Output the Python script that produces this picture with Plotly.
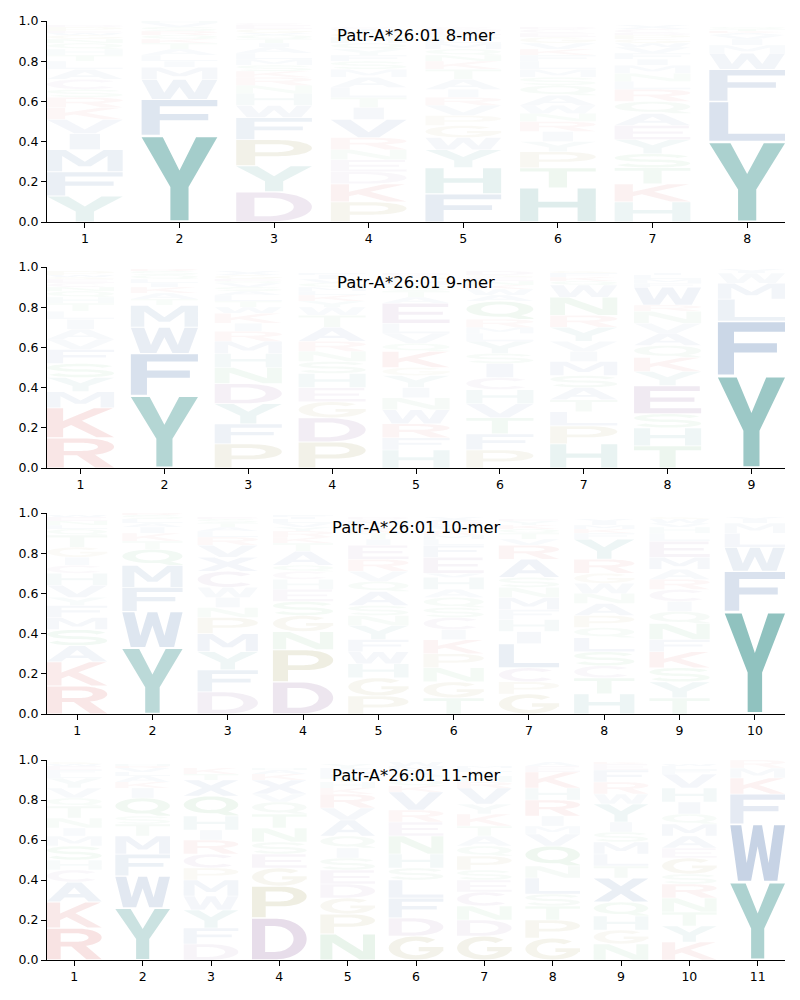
import math
import plotly.graph_objects as go

# ---------------- data (letter, probability) stacked bottom -> top ----------------
PEPTIDE_LENGTHS = [8, 9, 10, 11]
TITLE_FMT = "Patr-A*26:01 {}-mer"
Y_TICKS = [0.0, 0.2, 0.4, 0.6, 0.8, 1.0]

logo_8mer = [
    [("Y", .13), ("F", .12), ("M", .11), ("I", .08), ("V", .07), ("K", .06), ("R", .05), ("S", .04), ("C", .05),
     ("A", .05), ("L", .04), ("T", .03), ("H", .03), ("Q", .03), ("N", .02), ("G", .02), ("W", .01), ("E", .01),
     ("P", .02), ("D", .01)],
    [("Y", .43), ("F", .18), ("W", .10), ("M", .06), ("I", .03), ("L", .03), ("A", .03), ("T", .03), ("K", .02),
     ("Q", .02), ("R", .02), ("S", .02), ("V", .02), ("H", .01)],
    [("D", .15), ("Y", .13), ("P", .13), ("F", .11), ("W", .06), ("H", .06), ("N", .04), ("R", .04), ("K", .03),
     ("S", .03), ("M", .03), ("L", .03), ("A", .03), ("I", .02), ("T", .02), ("Q", .02), ("V", .01), ("G", .02),
     ("E", .02), ("C", .01)],
    [("P", .10), ("K", .09), ("D", .06), ("E", .06), ("N", .05), ("R", .06), ("V", .09), ("I", .06), ("T", .05),
     ("L", .05), ("A", .05), ("M", .04), ("S", .04), ("F", .03), ("Y", .03), ("Q", .03), ("H", .03), ("G", .02),
     ("W", .02), ("C", .01)],
    [("F", .14), ("H", .13), ("Y", .09), ("W", .06), ("G", .06), ("P", .05), ("V", .05), ("R", .04), ("I", .04),
     ("A", .05), ("T", .05), ("K", .04), ("N", .03), ("Q", .03), ("M", .03), ("L", .02), ("S", .02), ("E", .02),
     ("D", .01), ("C", .01)],
    [("H", .17), ("T", .10), ("P", .08), ("Y", .05), ("I", .05), ("R", .05), ("N", .04), ("W", .04), ("A", .05),
     ("Q", .05), ("S", .04), ("M", .04), ("L", .04), ("F", .03), ("K", .03), ("V", .03), ("G", .03), ("E", .02),
     ("C", .02), ("D", .01)],
    [("H", .10), ("K", .09), ("T", .08), ("S", .07), ("Y", .07), ("E", .07), ("A", .06), ("Q", .06), ("R", .06),
     ("L", .04), ("N", .04), ("M", .04), ("I", .03), ("F", .03), ("V", .03), ("W", .02), ("G", .02), ("P", .02),
     ("D", .01), ("C", .02), ("X", .02)],
    [("Y", .40), ("L", .20), ("F", .16), ("W", .08), ("M", .04), ("I", .03), ("V", .02), ("A", .01), ("K", .01),
     ("T", .01), ("Q", .01)],
]

logo_9mer = [
    [("R", .15), ("K", .15), ("M", .08), ("Y", .07), ("S", .07), ("F", .07), ("V", .05), ("A", .05), ("I", .05),
     ("L", .04), ("T", .04), ("H", .03), ("Q", .03), ("N", .02), ("C", .02), ("E", .02), ("G", .01), ("W", .01),
     ("P", .02)],
    [("Y", .36), ("F", .21), ("W", .13), ("M", .11), ("T", .03), ("A", .03), ("K", .03), ("I", .02), ("L", .02),
     ("Q", .02), ("S", .02), ("R", .01)],
    [("P", .12), ("F", .10), ("Y", .10), ("D", .10), ("N", .08), ("H", .07), ("M", .06), ("R", .05), ("I", .04),
     ("K", .05), ("W", .03), ("T", .03), ("L", .03), ("A", .02), ("S", .02), ("V", .02), ("Q", .01), ("E", .01),
     ("G", .02), ("X", .02)],
    [("P", .13), ("D", .12), ("G", .08), ("E", .07), ("H", .07), ("S", .06), ("N", .05), ("R", .05), ("A", .07),
     ("T", .06), ("W", .04), ("Y", .03), ("K", .03), ("L", .02), ("M", .02), ("Q", .02), ("V", .02), ("I", .02),
     ("F", .01)],
    [("H", .09), ("F", .06), ("R", .07), ("W", .07), ("N", .06), ("I", .05), ("Y", .06), ("G", .04), ("K", .08),
     ("Q", .04), ("V", .05), ("L", .05), ("E", .10), ("A", .03), ("T", .03), ("S", .03), ("M", .02), ("P", .02),
     ("C", .01), ("D", .01)],
    [("P", .09), ("F", .08), ("T", .08), ("V", .07), ("H", .07), ("C", .06), ("I", .07), ("S", .05), ("Y", .06),
     ("L", .04), ("M", .03), ("R", .04), ("Q", .09), ("A", .03), ("W", .03), ("K", .02), ("N", .02), ("E", .02),
     ("G", .01), ("D", .02)],
    [("H", .12), ("P", .09), ("L", .07), ("T", .06), ("A", .06), ("S", .06), ("M", .07), ("I", .05), ("V", .05),
     ("Y", .07), ("R", .06), ("N", .09), ("W", .06), ("Q", .02), ("K", .02), ("F", .02), ("G", .01)],
    [("T", .11), ("H", .09), ("S", .07), ("E", .14), ("Y", .07), ("K", .07), ("Q", .06), ("A", .06), ("V", .05),
     ("N", .06), ("R", .03), ("W", .09), ("F", .02), ("M", .02), ("L", .02), ("I", .01)],
    [("Y", .46), ("F", .27), ("L", .11), ("M", .08), ("W", .05), ("I", .01), ("V", .01)],
]

logo_10mer = [
    [("R", .14), ("K", .12), ("A", .08), ("S", .08), ("M", .06), ("F", .06), ("Y", .04), ("V", .06), ("H", .06),
     ("C", .04), ("I", .04), ("G", .05), ("T", .06), ("Q", .03), ("L", .02), ("N", .02), ("E", .02), ("W", .01)],
    [("Y", .33), ("W", .18), ("F", .12), ("M", .11), ("Q", .08), ("T", .04), ("K", .04), ("I", .03), ("A", .02),
     ("L", .02), ("S", .02), ("R", .01)],
    [("D", .11), ("F", .11), ("Y", .09), ("M", .09), ("P", .08), ("N", .05), ("I", .05), ("W", .05), ("C", .08),
     ("X", .07), ("V", .06), ("R", .04), ("L", .03), ("A", .02), ("T", .02), ("S", .02), ("E", .01)],
    [("D", .16), ("P", .16), ("N", .09), ("G", .08), ("S", .07), ("E", .06), ("H", .05), ("C", .04), ("Q", .03),
     ("A", .07), ("T", .04), ("K", .03), ("R", .03), ("Y", .02), ("V", .02), ("L", .02), ("I", .01), ("F", .01)],
    [("P", .09), ("G", .09), ("H", .07), ("W", .06), ("F", .06), ("Y", .07), ("N", .05), ("S", .05), ("A", .07),
     ("Q", .05), ("V", .05), ("R", .06), ("E", .07), ("I", .03), ("T", .03), ("K", .02), ("L", .02), ("M", .02),
     ("C", .01), ("D", .01)],
    [("T", .08), ("G", .08), ("N", .07), ("P", .07), ("K", .07), ("I", .05), ("C", .06), ("S", .05), ("Q", .05),
     ("A", .04), ("H", .06), ("V", .02), ("E", .08), ("F", .06), ("L", .03), ("M", .02), ("R", .02), ("Y", .02),
     ("W", .01), ("D", .02), ("X", .02)],
    [("G", .10), ("P", .06), ("C", .07), ("L", .12), ("I", .06), ("H", .06), ("F", .05), ("M", .06), ("N", .05),
     ("S", .05), ("A", .09), ("R", .07), ("V", .03), ("T", .03), ("Q", .02), ("K", .02), ("Y", .02), ("E", .01)],
    [("H", .10), ("T", .08), ("C", .06), ("S", .07), ("L", .07), ("Q", .05), ("P", .06), ("A", .06), ("N", .05),
     ("W", .05), ("G", .05), ("R", .07), ("Y", .10), ("F", .03), ("K", .02), ("M", .02), ("I", .02), ("V", .01)],
    [("T", .08), ("Y", .08), ("S", .07), ("K", .08), ("F", .06), ("N", .08), ("Q", .06), ("I", .05), ("C", .06),
     ("R", .05), ("A", .05), ("M", .06), ("E", .08), ("L", .04), ("H", .03), ("V", .02), ("W", .02), ("G", .01)],
    [("Y", .51), ("F", .20), ("W", .12), ("L", .07), ("M", .05), ("I", .02), ("V", .01)],
]

logo_11mer = [
    [("R", .16), ("K", .13), ("A", .10), ("C", .06), ("H", .05), ("S", .07), ("M", .05), ("I", .04), ("N", .05),
     ("T", .06), ("Q", .04), ("V", .05), ("Y", .05), ("L", .02), ("F", .02), ("E", .02), ("W", .01), ("G", .01)],
    [("Y", .26), ("W", .16), ("F", .11), ("M", .09), ("T", .06), ("S", .04), ("Q", .09), ("I", .05), ("K", .03),
     ("A", .03), ("L", .02), ("V", .02), ("R", .01), ("H", .01)],
    [("D", .08), ("F", .08), ("Y", .09), ("W", .07), ("M", .08), ("P", .06), ("C", .07), ("R", .07), ("I", .05),
     ("H", .07), ("Q", .10), ("X", .08), ("T", .03), ("K", .03)],
    [("D", .21), ("P", .16), ("G", .09), ("E", .07), ("S", .06), ("N", .07), ("T", .07), ("Q", .06), ("V", .04),
     ("X", .07), ("K", .03), ("A", .02), ("H", .01)],
    [("N", .13), ("P", .10), ("G", .08), ("D", .07), ("E", .07), ("S", .06), ("I", .05), ("Q", .06), ("A", .08),
     ("V", .06), ("R", .07), ("K", .03), ("H", .03), ("T", .02), ("L", .02), ("M", .01), ("F", .02), ("Y", .02)],
    [("G", .12), ("D", .09), ("F", .10), ("L", .09), ("S", .06), ("H", .07), ("N", .09), ("E", .07), ("R", .06),
     ("V", .09), ("K", .03), ("Q", .03), ("T", .02), ("A", .02), ("I", .01), ("M", .02), ("W", .02)],
    [("G", .12), ("D", .08), ("N", .07), ("C", .07), ("E", .06), ("S", .05), ("P", .07), ("Q", .05), ("A", .05),
     ("T", .05), ("K", .06), ("Y", .05), ("V", .08), ("R", .03), ("H", .03), ("I", .02), ("L", .02), ("M", .01)],
    [("G", .11), ("P", .09), ("T", .07), ("S", .06), ("L", .08), ("N", .06), ("Q", .10), ("V", .06), ("M", .04),
     ("I", .05), ("R", .08), ("H", .06), ("K", .08), ("E", .03), ("A", .02)],
    [("N", .08), ("G", .07), ("H", .07), ("Q", .07), ("X", .12), ("T", .06), ("L", .06), ("M", .06), ("S", .05),
     ("I", .05), ("Y", .09), ("W", .05), ("R", .06), ("F", .06), ("E", .03), ("K", .01)],
    [("K", .09), ("Y", .08), ("T", .07), ("N", .07), ("R", .07), ("S", .05), ("G", .08), ("E", .05), ("A", .06),
     ("M", .06), ("Q", .05), ("I", .06), ("H", .07), ("V", .07), ("F", .02), ("L", .02), ("W", .01)],
    [("Y", .39), ("W", .29), ("F", .15), ("K", .08), ("M", .05), ("R", .04)],
]

PANELS = [logo_8mer, logo_9mer, logo_10mer, logo_11mer]

# ---------------- styling ----------------
TEAL = (20, 125, 120)
BLUE = (30, 80, 150)
RED = (200, 40, 40)
PURPLE = (115, 60, 135)
OLIVE = (130, 120, 30)
GREEN = (40, 150, 60)
AA_COLOR = {
    "Y": TEAL, "H": TEAL,
    "F": BLUE, "W": BLUE, "L": BLUE, "M": BLUE, "I": BLUE, "V": BLUE, "A": BLUE, "X": BLUE,
    "K": RED, "R": RED,
    "D": PURPLE, "E": PURPLE, "C": PURPLE,
    "P": OLIVE, "G": OLIVE,
    "N": GREEN, "S": GREEN, "T": GREEN, "Q": GREEN,
}
FONT = "DejaVu Sans"


# ---------------- glyph geometry (unit box) ----------------
def arc(cx, cy, rx, ry, a0, a1, n=28):
    pts = []
    for i in range(n + 1):
        a = math.radians(a0 + (a1 - a0) * i / n)
        pts.append((cx + rx * math.cos(a), cy + ry * math.sin(a)))
    return pts


def rect(x0, y0, x1, y1):
    return [(x0, y0), (x1, y0), (x1, y1), (x0, y1)]


def stroke(center, t):
    left, right = [], []
    n = len(center)
    for i, (x, y) in enumerate(center):
        xa, ya = center[max(i - 1, 0)]
        xb, yb = center[min(i + 1, n - 1)]
        dx, dy = xb - xa, yb - ya
        L = math.hypot(dx, dy) or 1.0
        nx, ny = -dy / L, dx / L
        left.append((x + nx * t / 2, y + ny * t / 2))
        right.append((x - nx * t / 2, y - ny * t / 2))
    return left + right[::-1]


def ring(a0, a1, cx=0.5, cy=0.5, rx=0.5, ry=0.5, irx=0.29, iry=0.31):
    return arc(cx, cy, rx, ry, a0, a1) + arc(cx, cy, irx, iry, a1, a0)


GLYPHS = {
    "A": [([(0, 0), (0.24, 0), (0.32, 0.22), (0.68, 0.22), (0.76, 0), (1, 0), (0.63, 1), (0.37, 1)], False),
          ([(0.38, 0.39), (0.62, 0.39), (0.5, 0.74)], True)],
    "C": [(ring(40, 320), False)],
    "D": [([(0, 0)] + arc(0.45, 0.5, 0.55, 0.5, -90, 90) + [(0, 1)], False),
          ([(0.24, 0.18)] + arc(0.42, 0.5, 0.34, 0.32, -90, 90) + [(0.24, 0.82)], True)],
    "E": [([(0, 0), (1, 0), (1, 0.18), (0.24, 0.18), (0.24, 0.42), (0.9, 0.42), (0.9, 0.58), (0.24, 0.58),
            (0.24, 0.82), (0.98, 0.82), (0.98, 1), (0, 1)], False)],
    "F": [([(0, 0), (0.24, 0), (0.24, 0.42), (0.88, 0.42), (0.88, 0.6), (0.24, 0.6), (0.24, 0.82), (1, 0.82),
            (1, 1), (0, 1)], False)],
    "G": [(ring(45, 360), False), (rect(0.55, 0.36, 1.0, 0.54), False)],
    "H": [([(0, 0), (0.24, 0), (0.24, 0.42), (0.76, 0.42), (0.76, 0), (1, 0), (1, 1), (0.76, 1), (0.76, 0.6),
            (0.24, 0.6), (0.24, 1), (0, 1)], False)],
    "I": [(rect(0.3, 0, 0.7, 1), False)],
    "K": [([(0, 0), (0.24, 0), (0.24, 0.3), (0.36, 0.42), (0.74, 0), (1, 0), (0.52, 0.57), (0.98, 1), (0.7, 1),
            (0.24, 0.56), (0.24, 1), (0, 1)], False)],
    "L": [([(0, 0), (1, 0), (1, 0.18), (0.25, 0.18), (0.25, 1), (0, 1)], False)],
    "M": [([(0, 0), (0.2, 0), (0.2, 0.72), (0.42, 0.24), (0.58, 0.24), (0.8, 0.72), (0.8, 0), (1, 0), (1, 1),
            (0.75, 1), (0.5, 0.45), (0.25, 1), (0, 1)], False)],
    "N": [([(0, 0), (0.22, 0), (0.22, 0.68), (0.72, 0), (1, 0), (1, 1), (0.78, 1), (0.78, 0.32), (0.28, 1),
            (0, 1)], False)],
    "P": [([(0, 0), (0.25, 0), (0.25, 0.36)] + arc(0.55, 0.68, 0.45, 0.32, -90, 90) + [(0, 1)], False),
          ([(0.25, 0.52)] + arc(0.52, 0.68, 0.24, 0.16, -90, 90) + [(0.25, 0.84)], True)],
    "Q": [(arc(0.5, 0.56, 0.5, 0.44, 0, 360), False),
          (arc(0.5, 0.56, 0.28, 0.27, 0, 360), True),
          ([(0.5, 0.3), (0.72, 0.3), (1, 0.05), (1, 0), (0.78, 0), (0.5, 0.22)], False)],
    "R": [([(0, 0), (0.25, 0), (0.25, 0.42)] + arc(0.55, 0.71, 0.45, 0.29, -90, 90) + [(0, 1)], False),
          ([(0.25, 0.57)] + arc(0.52, 0.71, 0.24, 0.14, -90, 90) + [(0.25, 0.85)], True),
          ([(0.42, 0.46), (0.7, 0.46), (1, 0), (0.72, 0)], False)],
    "S": [(stroke(arc(0.5, 0.705, 0.41, 0.205, 15, 270) + arc(0.5, 0.295, 0.41, 0.205, 90, -165)[1:], 0.18),
           False)],
    "T": [([(0, 1), (1, 1), (1, 0.82), (0.62, 0.82), (0.62, 0), (0.38, 0), (0.38, 0.82), (0, 0.82)], False)],
    "V": [([(0, 1), (0.26, 1), (0.5, 0.28), (0.74, 1), (1, 1), (0.64, 0), (0.36, 0)], False)],
    "W": [([(0, 1), (0.2, 1), (0.3, 0.32), (0.42, 1), (0.58, 1), (0.7, 0.32), (0.8, 1), (1, 1), (0.86, 0),
            (0.62, 0), (0.5, 0.62), (0.38, 0), (0.14, 0)], False)],
    "Y": [([(0, 1), (0.28, 1), (0.5, 0.6), (0.72, 1), (1, 1), (0.62, 0.4), (0.62, 0), (0.38, 0), (0.38, 0.4)],
           False)],
    "X": [([(0, 1), (0.28, 1), (0.5, 0.66), (0.72, 1), (1, 1), (0.66, 0.5), (1, 0), (0.72, 0), (0.5, 0.34),
            (0.28, 0), (0, 0), (0.34, 0.5)], False)],
}


def oriented(pts, hole):
    area = 0.0
    for i in range(len(pts)):
        x0, y0 = pts[i]
        x1, y1 = pts[(i + 1) % len(pts)]
        area += x0 * y1 - x1 * y0
    ccw = area > 0
    if ccw == hole:
        return pts[::-1]
    return pts


def glyph_path(aa, x0, width, y0, height):
    parts = []
    for pts, hole in GLYPHS[aa]:
        pts = oriented(pts, hole)
        seg = []
        for k, (u, v) in enumerate(pts):
            x = x0 + u * width
            y = y0 + v * height
            seg.append(("M" if k == 0 else "L") + f"{x:.4f},{y:.5f}")
        parts.append(" ".join(seg) + " Z")
    return " ".join(parts)


# ---------------- figure ----------------
# The page places the figure 8 px from the top-left corner, so the figure is 8 px smaller
# and every pixel position below is given in page pixels and shifted back by that offset.
PAGE_OFFSET = 8
W, H = 800 - PAGE_OFFSET, 1000 - PAGE_OFFSET
X_LEFT, X_RIGHT = 47 - PAGE_OFFSET, 785 - PAGE_OFFSET
PANEL_PX = [(21, 222), (267, 468), (513, 714), (760, 960)]
TITLE_OFFSET_PX = 15
LETTER_W = 0.8
VPAD = 0.02

fig = go.Figure()
layout = dict(
    width=W, height=H, autosize=False,
    margin=dict(l=0, r=0, t=0, b=0, pad=0, autoexpand=False),
    paper_bgcolor="white", plot_bgcolor="white",
    showlegend=False,
    font=dict(family=FONT, color="black"),
)
shapes = []
annotations = []

for i, (L, cols) in enumerate(zip(PEPTIDE_LENGTHS, PANELS)):
    k = "" if i == 0 else str(i + 1)
    xa, ya = "x" + k, "y" + k
    top_px, bot_px = (p - PAGE_OFFSET for p in PANEL_PX[i])
    fig.add_trace(go.Scatter(x=[None], y=[None], xaxis=xa, yaxis=ya, showlegend=False, hoverinfo="skip"))
    axis_common = dict(showgrid=False, zeroline=False, showline=True, linecolor="black", linewidth=1.1,
                       ticks="outside", ticklen=5, tickwidth=1.1, tickcolor="black", automargin=False,
                       tickfont=dict(family=FONT, size=12.5, color="black"), fixedrange=True)
    layout["xaxis" + k] = dict(axis_common, domain=[X_LEFT / W, X_RIGHT / W], range=[0.6, L + 0.4], anchor=ya,
                               tickmode="array", tickvals=list(range(1, L + 1)),
                               ticktext=[str(p) for p in range(1, L + 1)])
    layout["yaxis" + k] = dict(axis_common, domain=[1 - bot_px / H, 1 - top_px / H], range=[0, 1], anchor=xa,
                               tickmode="array", tickvals=Y_TICKS, ticktext=[f"{t:.1f}" for t in Y_TICKS])
    for j, col in enumerate(cols):
        pos = j + 1
        y0 = 0.0
        for aa, h in col:
            r, g, b = AA_COLOR[aa]
            alpha = max(0.03, min(1.0, h ** 1.12))
            shapes.append(dict(
                type="path", xref=xa, yref=ya, layer="below", fillrule="nonzero",
                path=glyph_path(aa, pos - LETTER_W / 2, LETTER_W, y0 + VPAD * h, h * (1 - 2 * VPAD)),
                fillcolor=f"rgba({r},{g},{b},{alpha:.3f})", line=dict(width=0),
            ))
            y0 += h
    annotations.append(dict(
        text=TITLE_FMT.format(L), xref=xa + " domain", yref=ya + " domain", x=0.5,
        y=1 - TITLE_OFFSET_PX / (bot_px - top_px), xanchor="center", yanchor="middle", showarrow=False,
        font=dict(family=FONT, size=16.4, color="black"),
    ))

layout["shapes"] = shapes
layout["annotations"] = annotations
fig.update_layout(**layout)
fig.write_html("out.html")
